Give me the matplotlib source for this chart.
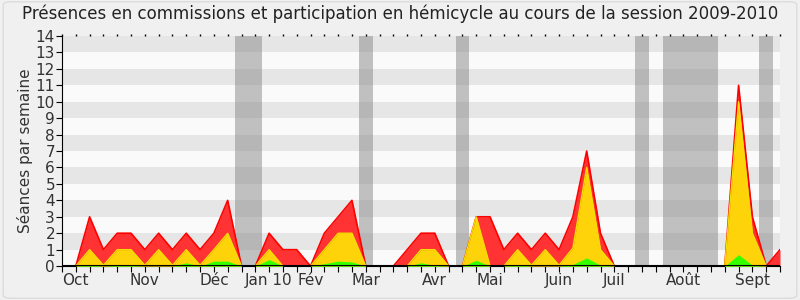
import numpy as np
import matplotlib.pyplot as plt
from matplotlib.patches import FancyBboxPatch

# weekly values, session 2009-2010 (week 0 = end of september)
weeks = np.arange(53)
total = [0, 0, 3, 1, 2, 2, 1, 2, 1, 2, 1, 2, 4, 0, 0, 2, 1, 1, 0, 2, 3, 4, 0, 0, 0, 1,
         2, 2, 0, 0, 3, 3, 1, 2, 1, 2, 1, 3, 7, 2, 0, 0, 0, 0, 0, 0, 0, 0, 0, 11, 3, 0, 1]
hemicycle = [0, 0, 1, 0.05, 1, 1, 0.05, 1, 0.05, 1, 0.05, 1, 2, 0, 0, 1, 0, 0, 0, 1, 2, 2, 0, 0, 0, 0,
             1, 1, 0, 0, 3, 0, 0, 1, 0.05, 1, 0.05, 1.1, 6, 1, 0, 0, 0, 0, 0, 0, 0, 0, 0, 10, 2, 0, 0]
commissions = [0, 0, 0.1, 0, 0.05, 0.05, 0, 0, 0, 0.2, 0, 0.3, 0.3, 0, 0, 0.4, 0, 0, 0, 0.15, 0.3, 0.25, 0, 0, 0, 0,
               0.2, 0.05, 0, 0, 0.35, 0, 0, 0.1, 0, 0, 0, 0.1, 0.5, 0.05, 0, 0, 0, 0, 0, 0, 0, 0, 0, 0.7, 0.05, 0, 0]
vacances = [13, 14, 22, 29, 42, 44, 45, 46, 47, 51]
mois = ['Oct', 'Nov', 'Déc', 'Jan 10', 'Fév', 'Mar', 'Avr', 'Mai', 'Juin', 'Juil', 'Août', 'Sept']
mois_pos = [1, 6, 11, 15, 18, 22, 27, 31, 36, 40, 45, 50]

fig = plt.figure(figsize=(8, 3), dpi=100, facecolor='#f0f0f0')
fig.patches.append(FancyBboxPatch((0.004, 0.006), 0.992, 0.988, boxstyle='round,pad=0,rounding_size=0.01',
                                  transform=fig.transFigure, facecolor='#f0f0f0', edgecolor='#dcdcdc',
                                  lw=1, zorder=-10))
ax = fig.add_axes([0.0775, 0.113, 0.8975, 0.767])
ax.set_facecolor('#fafafa')

# stripes
for k in range(1, 14, 2):
    ax.axhspan(k, k + 1, color='#e6e6e6', lw=0, zorder=0)
for w in vacances:
    ax.axvspan(w - 0.5, w + 0.5, color='#888888', alpha=0.5, lw=0, zorder=1)

ax.fill_between(weeks, total, color='#ff3333', lw=0, zorder=2)
ax.plot(weeks, total, color='#ff0000', lw=1.2, zorder=3)
ax.fill_between(weeks, hemicycle, color='#ffd30a', lw=0, zorder=4)
ax.plot(weeks, hemicycle, color='#f0e000', lw=1, zorder=5)
ax.fill_between(weeks, commissions, color='#33ff00', lw=0, zorder=6)
ax.axhline(0, color='black', lw=1.5, zorder=7)

ax.set_xlim(0, 52)
ax.set_ylim(0, 14)
ax.set_yticks(range(15))
ax.set_xticks(weeks)
labels = [''] * len(weeks)
for p, m in zip(mois_pos, mois):
    labels[p] = m
ax.set_xticklabels(labels)
ax.tick_params(axis='x', length=4, labelsize=11, colors='black', labelcolor='#333333', pad=1)
ax.tick_params(axis='y', length=4, labelsize=11, labelcolor='#333333', pad=1)
ax.tick_params(axis='x', top=True, direction='out')
for t in ax.xaxis.get_major_ticks():
    t.tick2line.set_markersize(1.5)
    t.tick2line.set_markeredgewidth(1)
    t.tick2line.set_color('#333333')
for s in ['top', 'right']:
    ax.spines[s].set_visible(False)
ax.set_ylabel('Séances par semaine', fontsize=11, color='#333333', labelpad=2)
fig.text(0.5, 0.955, 'Présences en commissions et participation en hémicycle au cours de la session 2009-2010',
         fontsize=12, color='#222222', ha='center', va='center')

fig.savefig('out.png', dpi=100, facecolor=fig.get_facecolor())
